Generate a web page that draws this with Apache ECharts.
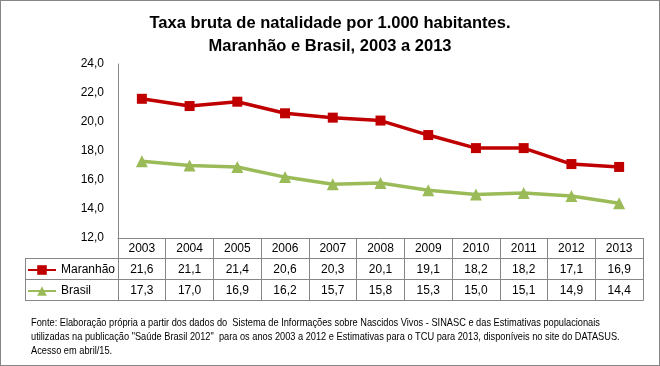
<!DOCTYPE html>
<html><head><meta charset="utf-8">
<script src="https://cdn.jsdelivr.net/npm/echarts@6/dist/echarts.min.js"></script>
<style>html,body{margin:0;padding:0;background:#fff}#c{width:660px;height:366px}</style>
</head><body><div id="c"></div>
<script>
const years = ['2003','2004','2005','2006','2007','2008','2009','2010','2011','2012','2013'];
const maranhao = [21.6,21.1,21.4,20.6,20.3,20.1,19.1,18.2,18.2,17.1,16.9];
const brasil = [17.3,17.0,16.9,16.2,15.7,15.8,15.3,15.0,15.1,14.9,14.4];
const seriesNames = ['Maranhão','Brasil'];
const yMin = 12, yMax = 24, yStep = 2;
const titleText = 'Taxa bruta de natalidade por 1.000 habitantes.\nMaranhão e Brasil, 2003 a 2013';
const footnoteText = 'Fonte: Elaboração própria a partir dos dados do  Sistema de Informações sobre Nascidos Vivos - SINASC e das Estimativas populacionais\nutilizadas na publicação "Saúde Brasil 2012"  para os anos 2003 a 2012 e Estimativas para o TCU para 2013, disponíveis no site do DATASUS.\nAcesso em abril/15.';

const fmt = v => v.toFixed(1).replace('.', ',');
const GRAY = '#868686';
const chart = echarts.init(document.getElementById('c'), null, {renderer:'canvas'});
const LEFT = 118, RIGHT = 643, TOP = 64, AXIS_Y = 238, TABLE_LEFT = 25;
const rowLines = [258.5, 279.5, 300.5];

chart.setOption({
  animation: false,
  backgroundColor: '#fff',
  textStyle: {fontFamily: "'Liberation Sans', Arial, sans-serif"},
  title: {
    text: titleText, left: 'center', top: 7,
    textStyle: {fontFamily: "'Liberation Sans', sans-serif", fontSize: 16.5, fontWeight: 'bold', color: '#000', lineHeight: 23}
  },
  grid: {left: LEFT, right: 660 - RIGHT, top: TOP, height: AXIS_Y - TOP, containLabel: false},
  legend: {
    orient: 'vertical', left: 27, top: 264, padding: 0,
    itemWidth: 28, itemHeight: 12, itemGap: 9,
    textStyle: {fontSize: 12, color: '#000', lineHeight: 12},
    data: seriesNames
  },
  xAxis: {
    type: 'category', data: years, boundaryGap: true,
    axisLine: {lineStyle: {color: GRAY, width: 1}},
    axisTick: {show: true, interval: 0, length: rowLines[2] - AXIS_Y, lineStyle: {color: GRAY}},
    axisLabel: {
      interval: 0, margin: 0, fontSize: 12, color: '#000',
      formatter: (v, i) => `{a|${v}}\n{a|${fmt(maranhao[i])}}\n{a|${fmt(brasil[i])}}`,
      rich: {a: {lineHeight: 21, fontSize: 12, color: '#000'}}
    }
  },
  yAxis: {
    type: 'value', min: yMin, max: yMax, interval: yStep,
    axisLine: {show: true, lineStyle: {color: GRAY}},
    axisTick: {show: false},
    splitLine: {show: false},
    axisLabel: {fontSize: 12, color: '#000', margin: 14, formatter: v => fmt(v)}
  },
  series: [
    {name: seriesNames[0], type: 'line', data: maranhao, symbol: 'rect', symbolSize: 10,
     lineStyle: {color: '#C00000', width: 3.5}, itemStyle: {color: '#C00000'}},
    {name: seriesNames[1], type: 'line', data: brasil, symbol: 'triangle', symbolSize: 12,
     lineStyle: {color: '#9BBB59', width: 3.5}, itemStyle: {color: '#9BBB59'}}
  ],
  graphic: [
    {type: 'rect', shape: {x: 0, y: 0, width: 660, height: 366}, style: {fill: null, stroke: GRAY, lineWidth: 2}, silent: true},
    ...rowLines.map(y => ({type: 'line', shape: {x1: TABLE_LEFT, y1: y, x2: RIGHT + 0.5, y2: y}, style: {stroke: GRAY, lineWidth: 1}, silent: true})),
    {type: 'line', shape: {x1: TABLE_LEFT + 0.5, y1: rowLines[0], x2: TABLE_LEFT + 0.5, y2: rowLines[2]}, style: {stroke: GRAY, lineWidth: 1}, silent: true},
    {type: 'text', x: 31, y: 316, scaleX: 0.84, silent: true,
     style: {text: footnoteText, fontFamily: "'Liberation Sans', sans-serif", fontSize: 11, lineHeight: 14, fill: '#000'}}
  ]
});
</script></body></html>
